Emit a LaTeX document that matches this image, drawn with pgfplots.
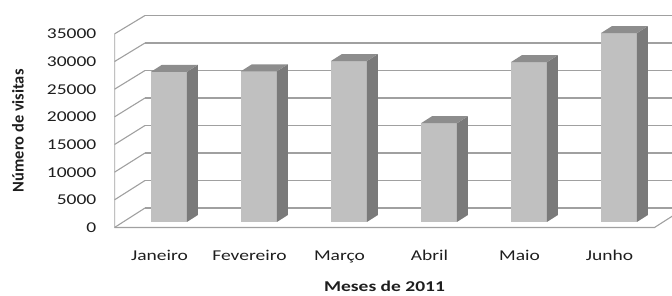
\documentclass[border=0pt]{standalone}
\usepackage{pgfplots}
\pgfplotsset{compat=1.18}
\usepackage{pgfplotstable}
\usepackage{fontspec}
\setmainfont{Carlito}[FakeStretch=1.3]
\newfontfamily\yfont{Carlito}
\definecolor{gridc}{RGB}{160,160,160}
\definecolor{barfront}{RGB}{192,192,192}
\definecolor{bartop}{RGB}{141,141,141}
\definecolor{barside}{RGB}{122,122,122}
\definecolor{txt}{RGB}{30,30,30}

% visits per month (value of each bar)
\pgfplotstableread{
k v
0 27150
1 27250
2 29100
3 17850
4 28900
5 34150
}\visits

\begin{document}
\begin{tikzpicture}
\path[use as bounding box] (0,0) rectangle (672pt,-295pt);
\begin{axis}[
  at={(114.5pt,-229pt)}, anchor=south west,
  scale only axis, width=557.5pt, height=229pt,
  xmin=-0.5, xmax=5.6944, ymin=-271, ymax=41132,
  enlargelimits=false,
  axis line style={draw=none},
  tick style={draw=none},
  xtick={0,...,5},
  xticklabels={Janeiro,Fevereiro,Março,Abril,Maio,Junho},
  ytick={0,5000,10000,15000,20000,25000,30000,35000},
  yticklabels={0,5000,10000,15000,20000,25000,30000,35000},
  tick label style={font=\fontsize{15}{18}\selectfont, text=txt},
  xticklabel style={anchor=base, yshift=-31pt},
  yticklabel style={anchor=east, inner xsep=0pt, xshift=-18pt},
  xlabel={\bfseries Meses de 2011},
  xlabel style={at={(axis cs:2.5,-11660)}, anchor=base, font=\fontsize{15}{18}\selectfont, text=txt},
  ylabel={\yfont\bfseries Número de visitas},
  ylabel style={at={(axis cs:-1.572,17500)}, anchor=center, rotate=0, font=\fontsize{16.4}{19}\selectfont, text=txt},
  unbounded coords=jump,
]
% back wall grid lines
\addplot[gridc, line width=1.1pt] coordinates {
(-0.161,3526) (5.84,3526) (nan,nan)
(-0.161,8498) (5.84,8498) (nan,nan)
(-0.161,13470) (5.84,13470) (nan,nan)
(-0.161,18442) (5.84,18442) (nan,nan)
(-0.161,23414) (5.84,23414) (nan,nan)
(-0.161,28386) (5.84,28386) (nan,nan)
(-0.161,33358) (5.84,33358) (nan,nan)
(-0.161,38330) (5.84,38330)
};
% left wall diagonals
\addplot[gridc, line width=1.1pt] coordinates {
(-0.5,0) (-0.161,3526) (nan,nan)
(-0.5,5000) (-0.161,8498) (nan,nan)
(-0.5,10000) (-0.161,13470) (nan,nan)
(-0.5,15000) (-0.161,18442) (nan,nan)
(-0.5,20000) (-0.161,23414) (nan,nan)
(-0.5,25000) (-0.161,28386) (nan,nan)
(-0.5,30000) (-0.161,33358) (nan,nan)
(-0.5,35000) (-0.161,38330)
};
% front left edge and floor
\addplot[gridc, line width=1.1pt] coordinates {(-0.5,35000) (-0.5,0) (5.5,0) (5.839,3526)};
% bars
\pgfplotsinvokeforeach{0,...,5}{
  \pgfplotstablegetelem{#1}{v}\of\visits
  \begingroup
  \pgfkeys{/pgf/fpu=true,/pgf/fpu/output format=fixed}
  \pgfmathparse{\pgfplotsretval+1000}\xdef\vtop{\pgfmathresult}
  \pgfmathparse{\pgfplotsretval+2266}\xdef\vback{\pgfmathresult}
  \endgroup
  \pgfmathsetmacro\xa{#1-0.095}
  \pgfmathsetmacro\xb{#1+0.305}
  \pgfmathsetmacro\xc{#1-0.095+0.122}
  \pgfmathsetmacro\xd{#1+0.305+0.122}
  \addplot[fill=barfront, draw=none] coordinates {(\xa,1000) (\xb,1000) (\xb,\vtop) (\xa,\vtop)};
  \addplot[fill=barside, draw=none] coordinates {(\xb,1000) (\xd,2266) (\xd,\vback) (\xb,\vtop)};
  \addplot[fill=bartop, draw=none] coordinates {(\xa,\vtop) (\xb,\vtop) (\xd,\vback) (\xc,\vback)};
}
\end{axis}
\end{tikzpicture}
\end{document}
